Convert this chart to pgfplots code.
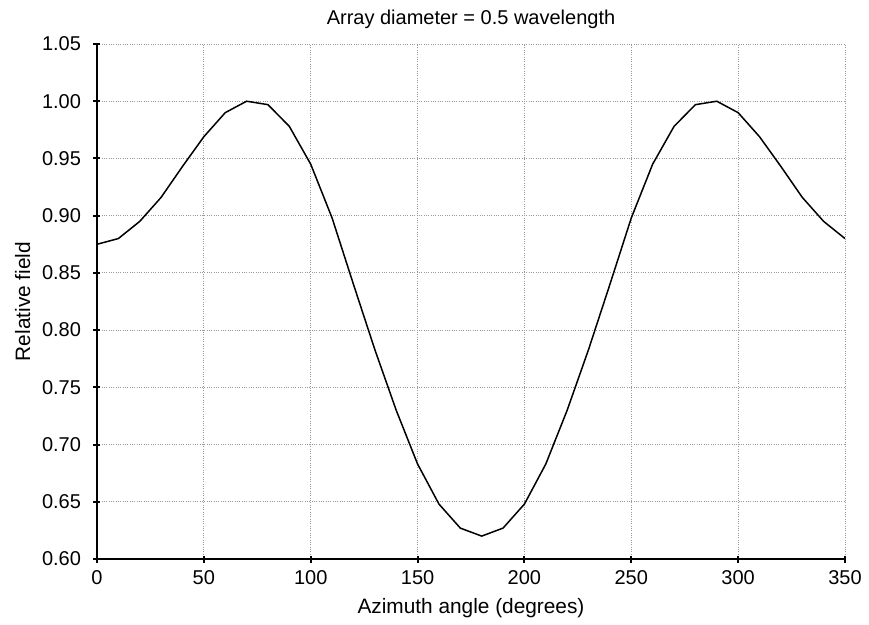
\documentclass[border=0pt]{standalone}
\usepackage{fontspec}
\setmainfont{Liberation Sans}
\usepackage{pgfplots}
\pgfplotsset{compat=1.18}
\begin{document}
\begin{tikzpicture}[font=\fontsize{12pt}{14pt}\selectfont]
\begin{axis}[
  name=ax,
  scale only axis,
  width=448.8pt, height=309pt,
  xmin=0, xmax=350, ymin=0.60, ymax=1.05,
  xtick={0,50,...,350},
  ytick={0.60,0.65,...,1.06},
  yticklabel style={xshift=-4pt, /pgf/number format/fixed, /pgf/number format/fixed zerofill, /pgf/number format/precision=2},
  /pgf/number format/assume math mode=true,
  tick label style={font=\fontsize{12pt}{14pt}\selectfont},
  label style={font=\fontsize{12.5pt}{14.5pt}\selectfont},
  title style={font=\fontsize{12pt}{14pt}\selectfont},
  axis x line=bottom, axis y line=left,
  axis line style={-, line width=1.2pt},
  tick align=center, major tick length=4.2pt,
  tick style={line width=1.2pt, black},
  grid=major,
  major grid style={densely dotted, gray!80, line width=0.5pt},
  title={Array diameter = 0.5 wavelength},
  title style={at={(0.5,1)}, anchor=base, yshift=5.6pt},
  xlabel={Azimuth angle (degrees)},
  ylabel={Relative field},
  xlabel style={at={(0.5,0)}, anchor=base, yshift=-32.7pt},
  ylabel style={at={(0,0.5)}, anchor=center, yshift=44.6pt},
  xticklabel style={yshift=-1.5pt},
  clip=false,
]
\addplot[black, line width=0.9pt] coordinates {
(0,0.875) (10,0.880) (20,0.895) (30,0.916) (40,0.943) (50,0.969) (60,0.990) (70,1.000) (80,0.997) (90,0.978)
(100,0.945) (110,0.898) (120,0.840) (130,0.783) (140,0.730) (150,0.683) (160,0.648) (170,0.627) (180,0.620)
(190,0.627) (200,0.648) (210,0.683) (220,0.730) (230,0.783) (240,0.840) (250,0.898) (260,0.945) (270,0.978)
(280,0.997) (290,1.000) (300,0.990) (310,0.969) (320,0.943) (330,0.916) (340,0.895) (350,0.880)
};
\end{axis}
\pgfresetboundingbox
\path[use as bounding box] ([xshift=-58.2pt,yshift=-39pt]ax.south west) rectangle ([xshift=14.4pt,yshift=26.4pt]ax.north east);
\end{tikzpicture}
\end{document}
